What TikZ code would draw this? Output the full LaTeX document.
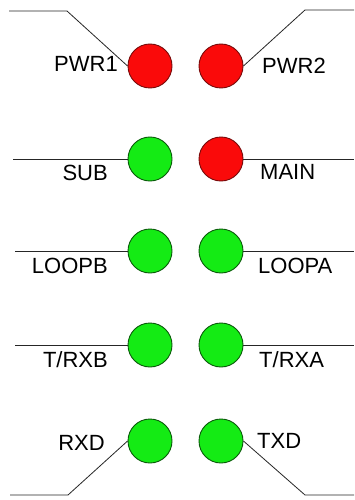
\documentclass[tikz,border=0pt]{standalone}
\usepackage{fontspec}
\setmainfont{Liberation Sans}
\definecolor{ledred}{RGB}{250,10,10}
\definecolor{ledredb}{RGB}{120,10,10}
\definecolor{ledgreen}{RGB}{20,235,20}
\definecolor{ledgreenb}{RGB}{10,90,10}
\begin{document}
\begin{tikzpicture}[x=1pt,y=-1pt,
  led/.style={circle,minimum size=44pt,inner sep=0pt,line width=0.9pt},
  redled/.style={led,fill=ledred,draw=ledredb},
  greenled/.style={led,fill=ledgreen,draw=ledgreenb},
  lbl/.style={inner sep=0pt,font=\fontsize{22}{26}\selectfont},
  wire/.style={line width=0.8pt,draw=black!85}]
\useasboundingbox (0,0) rectangle (354,500);
\fill[white] (0,0) rectangle (354,500);
% LEDs
\node[redled]   (L1) at (150,66) {};
\node[redled]   (R1) at (221,66) {};
\node[greenled] (L2) at (150,159) {};
\node[redled]   (R2) at (221,159) {};
\node[greenled] (L3) at (150,251) {};
\node[greenled] (R3) at (221,251) {};
\node[greenled] (L4) at (150,345) {};
\node[greenled] (R4) at (221,345) {};
\node[greenled] (L5) at (150,441) {};
\node[greenled] (R5) at (221,441) {};
% labels
\node[lbl,anchor=east] (tL1) at (118,64) {PWR1};
\node[lbl,anchor=west] (tR1) at (262,66) {PWR2};
\node[lbl,anchor=east] (tL2) at (108,173) {SUB};
\node[lbl,anchor=west] (tR2) at (260,172) {MAIN};
\node[lbl,anchor=east] (tL3) at (108,266) {LOOPB};
\node[lbl,anchor=west] (tR3) at (258,266) {LOOPA};
\node[lbl,anchor=east] (tL4) at (108,360) {T/RXB};
\node[lbl,anchor=west] (tR4) at (259,360) {T/RXA};
\node[lbl,anchor=east] (tL5) at (105,443) {RXD};
\node[lbl,anchor=west] (tR5) at (257,441) {TXD};
% wire ends
\coordinate (a1) at (9,11);   \coordinate (b1) at (67,11);
\coordinate (c1) at (354,10); \coordinate (d1) at (305,10);
\coordinate (a2) at (13,159); \coordinate (c2) at (354,159);
\coordinate (a3) at (15,251); \coordinate (c3) at (354,251);
\coordinate (a4) at (15,345); \coordinate (c4) at (354,345);
\coordinate (a5) at (10,495); \coordinate (b5) at (68,495);
\coordinate (c5) at (354,495); \coordinate (d5) at (305,495);
% wires
\draw[wire] (a1) -- (b1) -- (L1.west);
\draw[wire] (c1) -- (d1) -- (R1.east);
\draw[wire] (a2) -- (L2.west);
\draw[wire] (R2.east) -- (c2);
\draw[wire] (a3) -- (L3.west);
\draw[wire] (R3.east) -- (c3);
\draw[wire] (a4) -- (L4.west);
\draw[wire] (R4.east) -- (c4);
\draw[wire] (a5) -- (b5) -- (L5.west);
\draw[wire] (c5) -- (d5) -- (R5.east);
\end{tikzpicture}
\end{document}
